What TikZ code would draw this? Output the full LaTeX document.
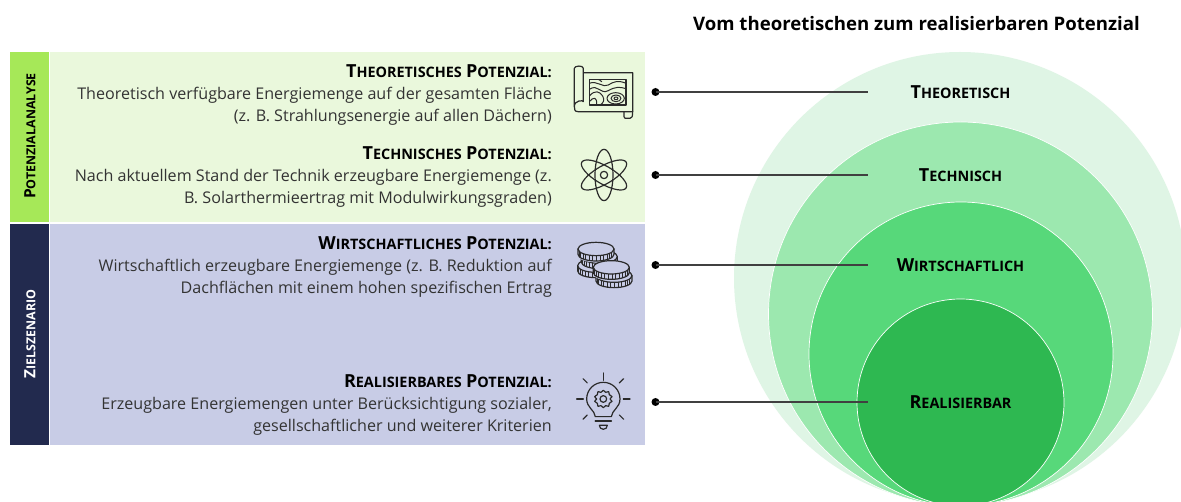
\documentclass[tikz,border=0pt]{standalone}
\usepackage{fontspec}
\setmainfont{Open Sans}
\definecolor{barG}{HTML}{A6E858}
\definecolor{panelG}{HTML}{EAF8DC}
\definecolor{barN}{HTML}{222A4E}
\definecolor{panelN}{HTML}{C8CCE6}
\definecolor{cA}{HTML}{DFF5E5}
\definecolor{cB}{HTML}{9CE8AF}
\definecolor{cC}{HTML}{57D87A}
\definecolor{cD}{HTML}{2EB851}
\definecolor{bodytxt}{HTML}{333333}
\definecolor{ico}{HTML}{2A2A2A}
\newcommand{\Kap}[3]{{\fontsize{#1}{#1}\selectfont\bfseries #2}{\fontsize{\dimexpr #1pt*4/5\relax}{#1}\selectfont\bfseries #3}}
\newcommand{\coinat}[2]{%
  \begin{scope}[shift={(#1,#2)}]
    \fill[fill=coinbg] (-54,0) -- (-54,20) arc[start angle=180,end angle=0,x radius=54,y radius=20] -- (54,0) arc[start angle=0,end angle=-180,x radius=54,y radius=20];
    \draw[icon] (-54,0) -- (-54,16) arc[start angle=180,end angle=0,x radius=54,y radius=20] -- (54,0);
    \foreach \a in {200,212,...,340} \draw[line width=.9pt,ico] ({54*cos(\a)},{-20*sin(\a)}) -- ({54*cos(\a)},{-20*sin(\a)+16});
    \draw[icon,fill=coinbg] (0,0) ellipse[x radius=54,y radius=20];
  \end{scope}}
\tikzset{
  x=1pt,y=-1pt,
  bar/.style={draw=none,minimum width=39pt,inner sep=0pt},
  panel/.style={draw=none,minimum width=595pt,inner sep=0pt},
  barlabel/.style={rotate=90,inner sep=0pt},
  descr/.style={align=right,anchor=east,inner sep=0pt,font=\fontsize{16.1}{22}\selectfont,text=bodytxt},
  ring/.style={circle,draw=white,line width=.7pt,inner sep=0pt},
  dot/.style={circle,fill=black,inner sep=0pt,minimum size=8pt},
  conn/.style={draw=black!75,line width=1.2pt},
  ringlabel/.style={inner sep=0pt,text=black},
  icon/.style={draw=ico,line width=1.2pt,line cap=round,line join=round},
  zoomA/.style={shift={(550,50)},x=.3333pt,y=-.3333pt},
  zoomB/.style={shift={(550,225)},x=.3333pt,y=-.3333pt},
}
\begin{document}
\begin{tikzpicture}
\clip (0,0) rectangle (1181,502);
\fill[white] (0,0) rectangle (1181,502);
% left panels
\node[bar,fill=barG,minimum height=170pt] (b1) at (29.5,137) {};
\node[panel,fill=panelG,minimum height=170pt] (p1) at (347.5,137) {};
\node[bar,fill=barN,minimum height=221pt] (b2) at (29.5,334.5) {};
\node[panel,fill=panelN,minimum height=221pt] (p2) at (347.5,334.5) {};
\node[barlabel,text=black] (l1) at (30,136) {\Kap{15.5}{P}{OTENZIALANALYSE}};
\node[barlabel,text=white] (l2) at (30,334) {\Kap{15.5}{Z}{IELSZENARIO}};
% title
\node[inner sep=0pt,font=\fontsize{18.6}{20}\selectfont\bfseries] (title) at (916.5,24) {Vom theoretischen zum realisierbaren Potenzial};
% descriptions
\node[descr] (t1) at (552,95) {{\color{black}\Kap{18}{T}{HEORETISCHES} \Kap{18}{P}{OTENZIAL:}}\\Theoretisch verfügbare Energiemenge auf der gesamten Fläche\\(z. B. Strahlungsenergie auf allen Dächern)};
\node[descr] (t2) at (552,177) {{\color{black}\Kap{18}{T}{ECHNISCHES} \Kap{18}{P}{OTENZIAL:}}\\Nach aktuellem Stand der Technik erzeugbare Energiemenge (z.\\B. Solarthermieertrag mit Modulwirkungsgraden)};
\node[descr] (t3) at (552,267) {{\color{black}\Kap{18}{W}{IRTSCHAFTLICHES} \Kap{18}{P}{OTENZIAL:}}\\Wirtschaftlich erzeugbare Energiemenge (z. B. Reduktion auf\\Dachflächen mit einem hohen spezifischen Ertrag};
\node[descr] (t4) at (552,405) {{\color{black}\Kap{18}{R}{EALISIERBARES} \Kap{18}{P}{OTENZIAL:}}\\Erzeugbare Energiemengen unter Berücksichtigung sozialer,\\gesellschaftlicher und weiterer Kriterien};
% circles
\node[circle,fill=cA,inner sep=0pt,minimum size=452pt] (r1) at (960,278) {};
\node[ring,fill=cB,minimum size=384pt] (r2) at (960.5,314) {};
\node[ring,fill=cC,minimum size=304pt] (r3) at (961,354) {};
\node[ring,fill=cD,minimum size=207pt] (r4) at (960.5,402.5) {};
% labels
\node[ringlabel] (n1) at (960.5,92) {\Kap{18}{T}{HEORETISCH}};
\node[ringlabel] (n2) at (960.5,175) {\Kap{18}{T}{ECHNISCH}};
\node[ringlabel] (n3) at (960.5,265) {\Kap{18}{W}{IRTSCHAFTLICH}};
\node[ringlabel] (n4) at (960.5,402) {\Kap{18}{R}{EALISIERBAR}};
% connectors
\node[dot] (d1) at (655.5,92) {};
\node[dot] (d2) at (655.5,175) {};
\node[dot] (d3) at (655.5,265) {};
\node[dot] (d4) at (655.5,402) {};
\coordinate (e1) at (868,92);
\coordinate (e2) at (868,175);
\coordinate (e3) at (868,265);
\coordinate (e4) at (868,402);
\foreach \i in {1,2,3,4} \draw[conn] (d\i.center) -- (e\i);
% map icon
\begin{scope}[zoomA]
  \draw[icon] (100,68) -- (248,68) -- (248,185) -- (84,185) .. controls (74,185) and (73,178) .. (73,170) -- (73,55) .. controls (73,47) and (100,45) .. (100,55) -- (100,155) .. controls (100,150) and (73,150) .. (73,170);
  \draw[icon] (222,185) -- (222,200) .. controls (222,205) and (226,205) .. (230,205) -- (240,205) .. controls (246,205) and (248,200) .. (248,185);
  \draw[icon,line width=1.5pt] (118,88) rectangle (228,165);
  \begin{scope}
    \clip (118,88) rectangle (228,165);
    \draw[icon,line width=1pt] (118,100) .. controls (140,90) and (160,115) .. (175,105) .. controls (190,95) and (205,90) .. (228,100);
    \draw[icon,line width=1pt] (118,118) .. controls (145,100) and (150,135) .. (175,122) .. controls (195,110) and (210,110) .. (228,116);
    \draw[icon,line width=1pt] (118,138) .. controls (135,118) and (150,125) .. (158,138) .. controls (165,150) and (160,160) .. (150,165);
    \draw[icon,line width=1pt] (118,155) .. controls (130,140) and (142,140) .. (140,165);
    \draw[icon,line width=1pt] (155,95) .. controls (150,88) and (145,88) .. (140,88);
    \draw[icon,line width=1pt] (197,145) ellipse[x radius=26,y radius=17];
    \draw[icon,line width=1pt] (198,145) ellipse[x radius=15,y radius=10];
    \draw[icon,line width=1pt] (198,145) ellipse[x radius=6,y radius=4];
  \end{scope}
  % atom icon
  \foreach \r in {0,60,120} \draw[icon] (162,375) ellipse[rotate=\r,x radius=27,y radius=77];
  \draw[icon] (162,375) circle[radius=11];
\end{scope}
% coins icon
\colorlet{coinbg}{panelN}
\begin{scope}[zoomB]
  \coinat{137}{122}
  \coinat{148}{95}
  \coinat{138}{72}
  \coinat{192}{152}
  \coinat{184}{127}
  % bulb icon
  \foreach \a/\p/\q in {90/56/78,45/68/86,135/68/86,0/60/80,180/60/80,-45/68/86,-135/68/86}
    \draw[icon] ({160+\p*cos(\a)},{522-\p*sin(\a)}) -- ({160+\q*cos(\a)},{522-\q*sin(\a)});
  \draw[icon] (136,575) .. controls (134,555) and (110,548) .. (110,522) arc[start angle=180,end angle=360,radius=50] .. controls (210,548) and (186,555) .. (184,575) -- cycle;
  \draw[icon,line width=1.6pt] (136,588) -- (184,588);
  \draw[icon] (148,601) -- (172,601) arc[start angle=0,end angle=180,radius=12] -- cycle;
  \draw[icon] plot[smooth cycle,tension=.3] coordinates {(160,496)(167,502)(176,500)(178,509)(186,515)(180,522)(186,529)(178,535)(176,544)(167,542)(160,548)(153,542)(144,544)(142,535)(134,529)(140,522)(134,515)(142,509)(144,500)(153,502)};
  \draw[icon] (160,522) circle[radius=10];
\end{scope}
\end{tikzpicture}
\end{document}
